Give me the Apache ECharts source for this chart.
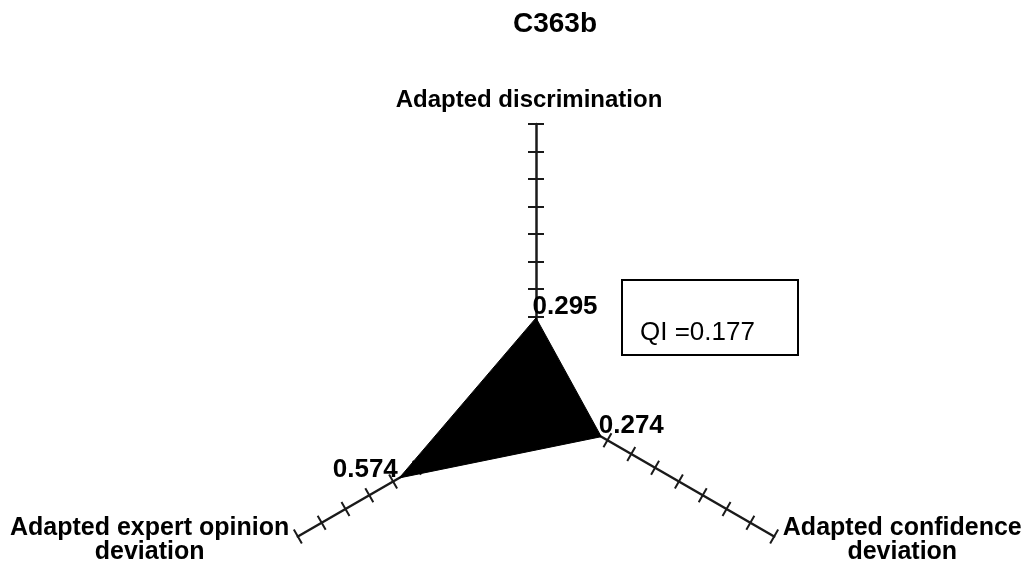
<!DOCTYPE html>
<html><head><meta charset="utf-8">
<script src="https://cdn.jsdelivr.net/npm/echarts@6/dist/echarts.min.js"></script>
<style>html,body{margin:0;padding:0;background:#fff}#c{width:1027px;height:571px}</style>
</head><body><div id="c"></div>
<script>
const chartTitle = 'C363b';
const indicatorNames = ['Adapted discrimination', 'Adapted expert opinion\ndeviation', 'Adapted confidence\ndeviation'];
const indicatorMax = [1, 1, 1];
const values = [0.295, 0.574, 0.274];
const qiText = 'QI =0.177';

const FONT = '"Liberation Sans", Arial, sans-serif';
const labelPos = [[-3, -11, 'left'], [-1, -8, 'right'], [-2, -10, 'left']];

const indicators = indicatorNames.map((n, i) => ({ name: n, min: 0, max: indicatorMax[i] }));
const nameStyle = { align: 'center', color: '#000', fontFamily: FONT, fontWeight: 'bold' };

function radarBase(tickLen, showName, showLine) {
  return {
    center: [536, 399],
    radius: 275,
    startAngle: 90,
    splitNumber: 10,
    shape: 'polygon',
    indicator: indicators,
    axisName: {
      show: showName,
      color: '#000',
      fontFamily: FONT,
      fontSize: 24,
      fontWeight: 'bold',
      formatter: n => {
        if (n === indicatorNames[0]) return '{t|' + n + '}';
        const lines = n.split('\n');
        return lines.map((l, i) => (i === lines.length - 1 ? '{d|' : '{c|') + l + '}').join('\n');
      },
      rich: {
        t: Object.assign({ fontSize: 24, lineHeight: 27, padding: [0, 14, 0, 0] }, nameStyle),
        c: Object.assign({ fontSize: 25, lineHeight: 27, padding: [0, 0, 0, 0] }, nameStyle),
        d: Object.assign({ fontSize: 25, lineHeight: 27, padding: [0, 0, 6, 0] }, nameStyle)
      }
    },
    nameGap: 10,
    axisLine: { show: showLine, lineStyle: { color: '#1a1a1a', width: 2.5 } },
    axisTick: { show: true, length: tickLen, lineStyle: { color: '#1a1a1a', width: 2 } },
    axisLabel: { show: false },
    splitLine: { show: false },
    splitArea: { show: false }
  };
}

const labelSeries = values.map((v, k) => ({
  type: 'radar',
  radarIndex: 0,
  z: 6,
  silent: true,
  symbol: 'circle',
  symbolSize: 1,
  itemStyle: { color: 'rgba(0,0,0,0)' },
  lineStyle: { opacity: 0 },
  label: {
    show: true,
    position: [labelPos[k][0], labelPos[k][1]],
    align: labelPos[k][2],
    verticalAlign: 'middle',
    color: '#000',
    fontFamily: FONT,
    fontSize: 26,
    fontWeight: 'bold',
    formatter: p => {
      const val = Array.isArray(p.value) ? null : p.value;
      return val === values[k] ? val.toFixed(3) : '';
    }
  },
  data: [{ value: values }]
}));

const option = {
  backgroundColor: '#fff',
  animation: false,
  title: [
    {
      text: chartTitle, left: 513, top: 10, padding: 0,
      textStyle: { color: '#000', fontFamily: FONT, fontSize: 28, fontWeight: 'bold' }
    },
    {
      text: qiText, left: 622, top: 280,
      padding: [40, 43, 10, 18],
      borderColor: '#000', borderWidth: 2,
      textStyle: { color: '#000', fontFamily: FONT, fontSize: 26, fontWeight: 'normal', lineHeight: 25 }
    }
  ],
  radar: [radarBase(8, true, true), radarBase(-8, false, false)],
  series: [
    {
      type: 'radar',
      radarIndex: 0,
      z: 5,
      silent: true,
      symbol: 'none',
      lineStyle: { color: '#000', width: 1 },
      areaStyle: { color: '#000', opacity: 1 },
      data: [{ value: values }]
    }
  ].concat(labelSeries)
};

const chart = echarts.init(document.getElementById('c'), null, { renderer: 'canvas' });
chart.setOption(option);
</script>
</body></html>
